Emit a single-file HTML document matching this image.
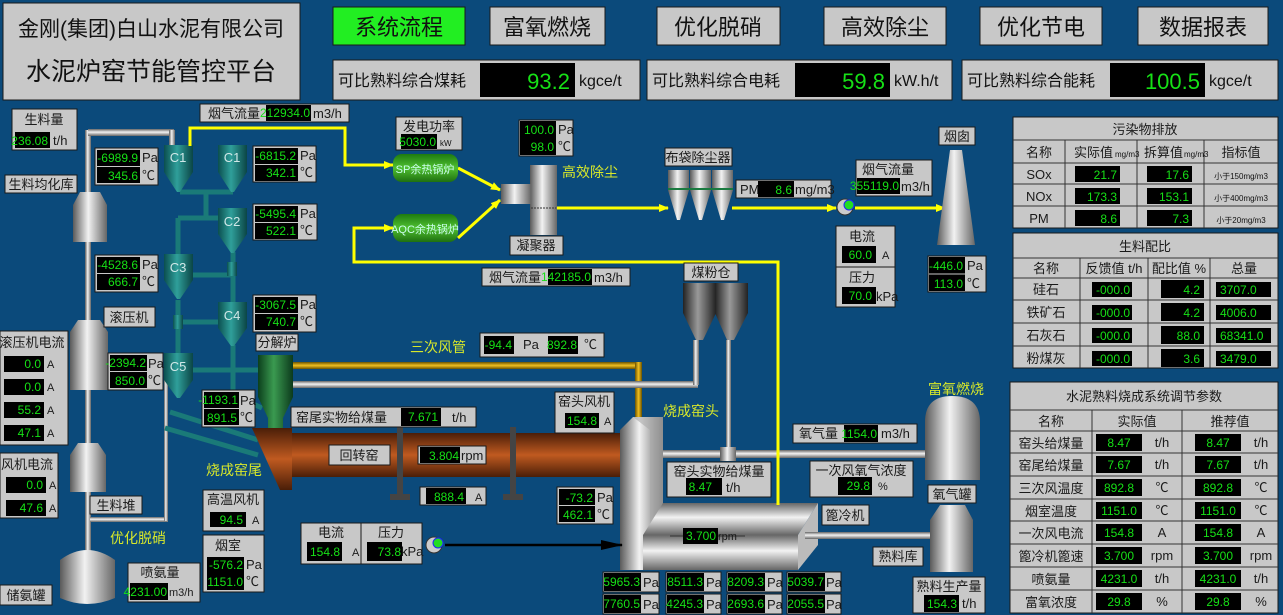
<!DOCTYPE html>
<html><head><meta charset="utf-8">
<style>
html,body{margin:0;padding:0;background:#0b4a7b;width:1283px;height:615px;overflow:hidden}
svg{display:block}
text{font-family:"Liberation Sans","Noto Sans CJK SC",sans-serif}
.p{fill:#c8c8c8;stroke:#1a1a1a;stroke-width:1}
.b{fill:#000}
.v{fill:#16e016;font-family:"Liberation Sans Narrow","Liberation Sans",sans-serif;font-size:12px}
.t{fill:#1a1a1a;font-size:13px}
.s{fill:#1a1a1a;font-size:11px}
.y{fill:#d8e82a;font-size:14px}
.yl{stroke:#ffff00;stroke-width:3;fill:none}
.tl{stroke:#1a7a78;stroke-width:5;fill:none}
</style></head><body>
<svg width="1283" height="615" viewBox="0 0 1283 615" xmlns="http://www.w3.org/2000/svg">
<defs>
<linearGradient id="sil" x1="0" x2="1" y1="0" y2="0"><stop offset="0" stop-color="#5a5a5a"/><stop offset=".45" stop-color="#f2f2f2"/><stop offset="1" stop-color="#666"/></linearGradient>
<linearGradient id="silv" x1="0" x2="0" y1="0" y2="1"><stop offset="0" stop-color="#666"/><stop offset=".45" stop-color="#f2f2f2"/><stop offset="1" stop-color="#666"/></linearGradient>
<linearGradient id="dk" x1="0" x2="1" y1="0" y2="0"><stop offset="0" stop-color="#222"/><stop offset=".45" stop-color="#999"/><stop offset="1" stop-color="#222"/></linearGradient>
<linearGradient id="tea" x1="0" x2="1" y1="0" y2="0"><stop offset="0" stop-color="#0b4f4f"/><stop offset=".45" stop-color="#2f9f9a"/><stop offset="1" stop-color="#0b4545"/></linearGradient>
<linearGradient id="grn" x1="0" x2="1" y1="0" y2="0"><stop offset="0" stop-color="#0c3f1c"/><stop offset=".45" stop-color="#3a9a50"/><stop offset="1" stop-color="#0c3a1c"/></linearGradient>
<linearGradient id="kil" x1="0" x2="0" y1="0" y2="1"><stop offset="0" stop-color="#4a1e08"/><stop offset=".5" stop-color="#c05a20"/><stop offset="1" stop-color="#4a1e08"/></linearGradient>
<linearGradient id="gold" x1="0" x2="0" y1="0" y2="1"><stop offset="0" stop-color="#6a5200"/><stop offset=".5" stop-color="#f0c020"/><stop offset="1" stop-color="#6a5200"/></linearGradient>
<linearGradient id="goldv" x1="0" x2="1" y1="0" y2="0"><stop offset="0" stop-color="#6a5200"/><stop offset=".5" stop-color="#f0c020"/><stop offset="1" stop-color="#6a5200"/></linearGradient>
<linearGradient id="boil" x1="0" x2="0" y1="0" y2="1"><stop offset="0" stop-color="#1e7a10"/><stop offset=".5" stop-color="#50c030"/><stop offset="1" stop-color="#1e7010"/></linearGradient>
<marker id="ya" markerWidth="10" markerHeight="8" refX="9" refY="4" orient="auto" markerUnits="userSpaceOnUse"><path d="M0,0 L10,4 L0,8z" fill="#ffff00"/></marker>
<marker id="ka" markerWidth="22" markerHeight="10" refX="21" refY="5" orient="auto" markerUnits="userSpaceOnUse"><path d="M0,0 L22,5 L0,10z" fill="#000"/></marker>
</defs>

<!-- header -->
<rect x="3" y="3" width="297" height="97" class="p"/>
<text x="151" y="36" font-size="21" text-anchor="middle" fill="#111">金刚(集团)白山水泥有限公司</text>
<text x="151" y="80" font-size="25" text-anchor="middle" fill="#111">水泥炉窑节能管控平台</text>
<rect x="333" y="7" width="132" height="38" fill="#22ee22" stroke="#1a1a1a"/>
<text x="399" y="35" font-size="22" text-anchor="middle" fill="#111">系统流程</text>
<rect x="490" y="7" width="115" height="38" class="p"/><text x="547" y="35" font-size="22" text-anchor="middle" fill="#111">富氧燃烧</text>
<rect x="657" y="7" width="123" height="38" class="p"/><text x="718" y="35" font-size="22" text-anchor="middle" fill="#111">优化脱硝</text>
<rect x="824" y="7" width="122" height="38" class="p"/><text x="885" y="35" font-size="22" text-anchor="middle" fill="#111">高效除尘</text>
<rect x="980" y="7" width="122" height="38" class="p"/><text x="1041" y="35" font-size="22" text-anchor="middle" fill="#111">优化节电</text>
<rect x="1138" y="7" width="130" height="38" class="p"/><text x="1203" y="35" font-size="22" text-anchor="middle" fill="#111">数据报表</text>

<rect x="333" y="60" width="307" height="40" class="p"/><text x="338" y="86" font-size="16" fill="#111">可比熟料综合煤耗</text>
<rect x="480" y="63" width="95" height="34" class="b"/><text x="570" y="89" font-size="22" fill="#16e016" text-anchor="end" font-family="Liberation Mono">93.2</text>
<text x="579" y="86" font-size="16" fill="#111">kgce/t</text>
<rect x="647" y="60" width="305" height="40" class="p"/><text x="652" y="86" font-size="16" fill="#111">可比熟料综合电耗</text>
<rect x="795" y="63" width="95" height="34" class="b"/><text x="885" y="89" font-size="22" fill="#16e016" text-anchor="end" font-family="Liberation Mono">59.8</text>
<text x="894" y="86" font-size="16" fill="#111">kW.h/t</text>
<rect x="962" y="60" width="316" height="40" class="p"/><text x="967" y="86" font-size="16" fill="#111">可比熟料综合能耗</text>
<rect x="1110" y="63" width="95" height="34" class="b"/><text x="1200" y="89" font-size="22" fill="#16e016" text-anchor="end" font-family="Liberation Mono">100.5</text>
<text x="1209" y="86" font-size="16" fill="#111">kgce/t</text>

<!-- pipes left -->
<rect x="85" y="130" width="6" height="470" fill="url(#sil)"/>
<rect x="88" y="129" width="86" height="7" fill="url(#silv)"/>
<rect x="169" y="130" width="6" height="16" fill="url(#sil)"/>
<rect x="90" y="517" width="78" height="5" fill="url(#silv)"/>
<rect x="164" y="355" width="4" height="166" fill="url(#sil)"/>
<!-- silos left -->
<path d="M73,205 L80,192 L100,192 L107,205 L107,242 L73,242z" fill="url(#sil)"/>
<path d="M70,332 L78,320 L100,320 L108,332 L108,390 L70,390z" fill="url(#sil)"/>
<path d="M70,455 L78,443 L98,443 L106,455 L106,492 L70,492z" fill="url(#sil)"/>
<path d="M60,560 Q87,540 115,560 L115,598 Q87,610 60,598z" fill="url(#sil)"/>

<!-- teal connections -->
<path class="tl" d="M180,192 L233,192 M206,192 L206,218 L233,218 M178,218 L206,218 M178,218 L178,256 M193,275 L233,275 M233,252 L233,302 M178,300 L178,353 M178,322 L225,322 M193,370 L262,370 M233,345 L233,395 L262,408 M170,412 L258,440 M165,428 L258,455"/>
<!-- cyclones -->
<g fill="url(#tea)">
<path d="M164,145 H193 V172 L180,192 H177 L164,172z"/>
<path d="M218,145 H247 V172 L234,192 H231 L218,172z"/>
<path d="M218,208 H247 V234 L234,253 H231 L218,234z"/>
<path d="M164,254 H193 V280 L180,299 H177 L164,280z"/>
<path d="M218,302 H247 V328 L234,346 H231 L218,328z"/>
<path d="M164,353 H193 V380 L180,398 H177 L164,380z"/>
</g>
<g fill="#d0e8e8" font-size="13" text-anchor="middle">
<text x="178" y="162">C1</text><text x="232" y="162">C1</text><text x="232" y="226">C2</text><text x="178" y="272">C3</text><text x="232" y="320">C4</text><text x="178" y="371">C5</text></g>
<rect x="227" y="262" width="10" height="14" fill="url(#tea)"/><rect x="173" y="315" width="10" height="14" fill="url(#tea)"/>

<!-- precalciner -->
<path d="M258,355 H293 V397 L283,418 V432 H268 V418 L258,397z" fill="url(#grn)"/>
<!-- tertiary air pipes -->
<rect x="293" y="362" width="348" height="7" fill="url(#gold)"/>
<rect x="635" y="362" width="7" height="60" fill="url(#goldv)"/>
<rect x="293" y="381" width="405" height="7" fill="url(#silv)"/>
<rect x="693" y="340" width="6" height="45" fill="url(#sil)"/>
<rect x="726" y="340" width="5" height="115" fill="url(#sil)"/>
<rect x="655" y="450" width="270" height="8" fill="url(#silv)"/>
<rect x="720" y="447" width="16" height="14" fill="url(#sil)"/>
<!-- coal bin -->
<path d="M683,283 H716 V313 L703,340 H696 L683,313z" fill="url(#dk)"/>
<path d="M715,283 H748 V313 L734,340 H727 L715,313z" fill="url(#dk)"/>

<!-- kiln -->
<rect x="285" y="433" width="340" height="44" fill="url(#kil)"/>
<path d="M252,428 H292 V490 H280 Z" fill="url(#kil)"/>
<rect x="397" y="427" width="6" height="68" fill="#444"/><rect x="390" y="494" width="20" height="6" fill="#444"/>
<rect x="510" y="427" width="6" height="68" fill="#444"/><rect x="503" y="494" width="20" height="6" fill="#444"/>
<!-- kiln head & cooler -->
<path d="M620,430 L633,417 H663 V557 L650,570 H620z" fill="url(#sil)"/>
<path d="M633,417 H663 V557 L650,570 V430z" fill="#aaa" opacity=".6"/>
<path d="M643,535 L663,503 H818 L798,535z" fill="url(#silv)"/>
<rect x="643" y="535" width="155" height="35" fill="url(#silv)"/>
<path d="M798,535 L818,503 V545 L798,570z" fill="#bbb"/>
<line x1="670" y1="536" x2="745" y2="536" stroke="#333"/>
<rect x="805" y="532" width="125" height="7" fill="url(#silv)"/>
<!-- oxygen tank & clinker silo -->
<path d="M925,422 Q925,396 952,396 Q980,396 980,422 V480 H925z" fill="url(#sil)"/>
<path d="M930,520 L940,505 H965 L973,520 V572 H930z" fill="url(#sil)"/>

<!-- flue gas yellow lines -->
<path class="yl" d="M190,146 V128 H345 V165 H393" marker-end="url(#ya)"/>
<path class="yl" d="M458,168 L500,190" marker-end="url(#ya)"/>
<path class="yl" d="M458,238 L500,200" marker-end="url(#ya)"/>
<path class="yl" d="M778,505 V262 H354 V228 H393" marker-end="url(#ya)"/>
<path class="yl" d="M557,208 H668" marker-end="url(#ya)"/>
<path class="yl" d="M732,208 H836" marker-end="url(#ya)"/>
<path class="yl" d="M855,208 H945" marker-end="url(#ya)"/>
<!-- boilers -->
<rect x="393" y="154" width="65" height="28" rx="9" fill="url(#boil)"/>
<text x="425" y="173" font-size="11" fill="#cfe" text-anchor="middle">SP余热锅炉</text>
<rect x="393" y="214" width="65" height="28" rx="9" fill="url(#boil)"/>
<text x="425" y="233" font-size="11" fill="#cfe" text-anchor="middle">AQC余热锅炉</text>
<!-- condenser -->
<rect x="530" y="165" width="27" height="70" fill="url(#sil)"/>
<rect x="501" y="184" width="30" height="20" fill="url(#sil)"/>
<line x1="531" y1="208" x2="556" y2="208" stroke="#333" stroke-dasharray="2 1"/>
<!-- bag filter -->
<g fill="url(#sil)"><path d="M668,170 H689 V190 L680,220 H677 L668,190z"/><path d="M690,170 H711 V190 L702,220 H699 L690,190z"/><path d="M712,170 H733 V190 L724,220 H721 L712,190z"/></g>
<line x1="668" y1="189" x2="733" y2="189" stroke="#1a7a40" stroke-width="2"/>
<!-- fans -->
<circle cx="845" cy="207" r="8" fill="#ccc" stroke="#333"/><circle cx="849" cy="205" r="5" fill="#22dd22" stroke="#22f"/>
<circle cx="434" cy="545" r="8" fill="#ccc" stroke="#333"/><circle cx="438" cy="543" r="5" fill="#22dd22" stroke="#22f"/>
<line x1="445" y1="545" x2="622" y2="545" stroke="#000" stroke-width="2.5" marker-end="url(#ka)"/>
<!-- chimney -->
<path d="M950,150 H962 L975,245 H937z" fill="url(#sil)"/>

<!-- yellow-green labels -->
<text x="562" y="177" class="y">高效除尘</text>
<text x="410" y="352" class="y">三次风管</text>
<text x="206" y="475" class="y">烧成窑尾</text>
<text x="663" y="416" class="y">烧成窑头</text>
<text x="928" y="394" class="y">富氧燃烧</text>
<text x="110" y="543" class="y">优化脱硝</text>

<!-- panels left -->
<rect x="12" y="109" width="65" height="41" class="p"/><text x="44" y="124" class="t" text-anchor="middle">生料量</text>
<rect x="15" y="132" width="35" height="16" class="b"/><text x="48" y="145" class="v" text-anchor="end" font-size="11">236.08</text><text x="53" y="145" class="t">t/h</text>
<rect x="5" y="175" width="72" height="18" class="p"/><text x="41" y="189" class="t" text-anchor="middle">生料均化库</text>
<rect x="200" y="104" width="149" height="18" class="p"/><text x="208" y="118" class="t">烟气流量</text>
<rect x="266" y="105" width="45" height="16" class="b"/><text x="310" y="117" class="v" text-anchor="end" font-size="10">212934.0</text><text x="313" y="118" class="t">m3/h</text>

<!-- two-row Pa/C panels -->
<g>
<rect x="95" y="148" width="63" height="37" class="p"/><rect x="97" y="150" width="43" height="16" class="b"/><rect x="97" y="167" width="43" height="16" class="b"/>
<text x="138" y="162" class="v" text-anchor="end">-6989.9</text><text x="138" y="180" class="v" text-anchor="end">345.6</text><text x="142" y="162" class="t">Pa</text><text x="142" y="180" class="t">℃</text>
<rect x="253" y="146" width="63" height="36" class="p"/><rect x="255" y="148" width="43" height="16" class="b"/><rect x="255" y="165" width="43" height="16" class="b"/>
<text x="296" y="160" class="v" text-anchor="end">-6815.2</text><text x="296" y="177" class="v" text-anchor="end">342.1</text><text x="300" y="160" class="t">Pa</text><text x="300" y="177" class="t">℃</text>
<rect x="253" y="204" width="64" height="36" class="p"/><rect x="255" y="206" width="43" height="16" class="b"/><rect x="255" y="223" width="43" height="16" class="b"/>
<text x="296" y="218" class="v" text-anchor="end">-5495.4</text><text x="296" y="235" class="v" text-anchor="end">522.1</text><text x="300" y="218" class="t">Pa</text><text x="300" y="235" class="t">℃</text>
<rect x="95" y="255" width="63" height="37" class="p"/><rect x="97" y="257" width="43" height="16" class="b"/><rect x="97" y="274" width="43" height="16" class="b"/>
<text x="138" y="269" class="v" text-anchor="end">-4528.6</text><text x="138" y="286" class="v" text-anchor="end">666.7</text><text x="142" y="269" class="t">Pa</text><text x="142" y="286" class="t">℃</text>
<rect x="253" y="295" width="63" height="37" class="p"/><rect x="255" y="297" width="43" height="16" class="b"/><rect x="255" y="314" width="43" height="16" class="b"/>
<text x="296" y="309" class="v" text-anchor="end">-3067.5</text><text x="296" y="326" class="v" text-anchor="end">740.7</text><text x="300" y="309" class="t">Pa</text><text x="300" y="326" class="t">℃</text>
<rect x="108" y="353" width="55" height="37" class="p"/><rect x="110" y="355" width="37" height="16" class="b"/><rect x="110" y="372" width="37" height="16" class="b"/>
<text x="146" y="367" class="v" text-anchor="end" font-size="10">-2394.2</text><text x="145" y="385" class="v" text-anchor="end">850.0</text><text x="148" y="368" class="t">Pa</text><text x="148" y="385" class="t">℃</text>
<rect x="202" y="390" width="53" height="37" class="p"/><rect x="204" y="392" width="35" height="16" class="b"/><rect x="204" y="409" width="35" height="16" class="b"/>
<text x="238" y="404" class="v" text-anchor="end" font-size="10">-1193.1</text><text x="237" y="422" class="v" text-anchor="end">891.5</text><text x="240" y="405" class="t">Pa</text><text x="240" y="422" class="t">℃</text>
<rect x="557" y="487" width="56" height="37" class="p"/><rect x="559" y="489" width="36" height="16" class="b"/><rect x="559" y="506" width="36" height="16" class="b"/>
<text x="593" y="502" class="v" text-anchor="end">-73.2</text><text x="593" y="519" class="v" text-anchor="end">462.1</text><text x="597" y="502" class="t">Pa</text><text x="597" y="519" class="t">℃</text>
<rect x="519" y="120" width="54" height="36" class="p"/><rect x="520" y="121" width="36" height="34" class="b"/>
<text x="554" y="134" class="v" text-anchor="end">100.0</text><text x="554" y="151" class="v" text-anchor="end">98.0</text><text x="558" y="134" class="t">Pa</text><text x="558" y="151" class="t">℃</text>
<rect x="928" y="256" width="58" height="36" class="p"/><rect x="929" y="257" width="36" height="34" class="b"/>
<line x1="929" y1="274" x2="965" y2="274" stroke="#c8c8c8"/>
<text x="963" y="270" class="v" text-anchor="end">-446.0</text><text x="963" y="288" class="v" text-anchor="end">113.0</text><text x="967" y="270" class="t">Pa</text><text x="967" y="288" class="t">℃</text>
</g>

<rect x="104" y="307" width="51" height="20" class="p"/><text x="129" y="322" class="t" text-anchor="middle">滚压机</text>
<rect x="256" y="334" width="42" height="17" class="p"/><text x="277" y="347" class="t" text-anchor="middle">分解炉</text>

<rect x="0" y="331" width="68" height="114" class="p"/><text x="32" y="347" class="t" text-anchor="middle">滚压机电流</text>
<g><rect x="4" y="356" width="40" height="16" class="b"/><rect x="4" y="379" width="40" height="16" class="b"/><rect x="4" y="402" width="40" height="16" class="b"/><rect x="4" y="425" width="40" height="16" class="b"/>
<text x="41" y="368" class="v" text-anchor="end">0.0</text><text x="41" y="391" class="v" text-anchor="end">0.0</text><text x="41" y="414" class="v" text-anchor="end">55.2</text><text x="41" y="437" class="v" text-anchor="end">47.1</text>
<text x="47" y="368" class="s">A</text><text x="47" y="391" class="s">A</text><text x="47" y="414" class="s">A</text><text x="47" y="437" class="s">A</text></g>
<rect x="0" y="453" width="58" height="65" class="p"/><text x="27" y="469" class="t" text-anchor="middle">风机电流</text>
<rect x="6" y="477" width="40" height="16" class="b"/><rect x="6" y="500" width="40" height="16" class="b"/>
<text x="43" y="489" class="v" text-anchor="end">0.0</text><text x="43" y="512" class="v" text-anchor="end">47.6</text><text x="49" y="489" class="s">A</text><text x="49" y="512" class="s">A</text>
<rect x="90" y="496" width="52" height="18" class="p"/><text x="116" y="510" class="t" text-anchor="middle">生料堆</text>
<rect x="0" y="585" width="52" height="20" class="p"/><text x="26" y="600" class="t" text-anchor="middle">储氨罐</text>
<rect x="128" y="563" width="72" height="39" class="p"/><text x="160" y="577" class="t" text-anchor="middle">喷氨量</text>
<rect x="130" y="583" width="38" height="17" class="b"/><text x="167" y="596" class="v" text-anchor="end" font-size="10">4231.00</text><text x="169" y="596" class="s">m3/h</text>

<rect x="203" y="490" width="61" height="41" class="p"/><text x="233" y="504" class="t" text-anchor="middle">高温风机</text>
<rect x="210" y="512" width="36" height="15" class="b"/><text x="243" y="524" class="v" text-anchor="end">94.5</text><text x="252" y="524" class="s">A</text>
<rect x="203" y="535" width="61" height="57" class="p"/><text x="228" y="550" class="t" text-anchor="middle">烟室</text>
<rect x="207" y="557" width="37" height="33" class="b"/><text x="243" y="569" class="v" text-anchor="end">-576.2</text><text x="243" y="586" class="v" text-anchor="end" font-size="11">1151.0</text><text x="246" y="569" class="t">Pa</text><text x="246" y="586" class="t">℃</text>

<rect x="291" y="407" width="185" height="20" class="p"/><text x="296" y="422" class="t">窑尾实物给煤量</text>
<rect x="401" y="408" width="40" height="18" class="b"/><text x="438" y="421" class="v" text-anchor="end">7.671</text><text x="452" y="422" class="t">t/h</text>
<rect x="329" y="445" width="61" height="20" class="p"/><text x="359" y="460" class="t" text-anchor="middle">回转窑</text>
<rect x="418" y="446" width="68" height="18" class="p"/><rect x="420" y="447" width="40" height="16" class="b"/><text x="459" y="460" class="v" text-anchor="end">3.804</text><text x="461" y="460" class="t">rpm</text>
<rect x="420" y="487" width="66" height="18" class="p"/><rect x="426" y="488" width="40" height="16" class="b"/><text x="464" y="501" class="v" text-anchor="end">888.4</text><text x="475" y="501" class="s">A</text>

<rect x="301" y="523" width="60" height="41" class="p"/><rect x="361" y="523" width="61" height="41" class="p"/>
<text x="331" y="537" class="t" text-anchor="middle">电流</text><text x="391" y="537" class="t" text-anchor="middle">压力</text>
<rect x="307" y="542" width="35" height="19" class="b"/><text x="340" y="556" class="v" text-anchor="end">154.8</text><text x="352" y="556" class="s">A</text>
<rect x="367" y="542" width="35" height="19" class="b"/><text x="401" y="556" class="v" text-anchor="end">73.8</text><text x="401" y="556" class="t">kPa</text>

<rect x="555" y="392" width="59" height="41" class="p"/><text x="584" y="406" class="t" text-anchor="middle">窑头风机</text>
<rect x="565" y="413" width="34" height="15" class="b"/><text x="597" y="425" class="v" text-anchor="end">154.8</text><text x="604" y="425" class="s">A</text>

<rect x="480" y="333" width="124" height="24" class="p"/><rect x="484" y="336" width="30" height="18" class="b"/><text x="512" y="349" class="v" text-anchor="end">-94.4</text><text x="523" y="349" class="t">Pa</text>
<rect x="548" y="336" width="30" height="18" class="b"/><text x="577" y="349" class="v" text-anchor="end">892.8</text><text x="584" y="349" class="t">℃</text>

<rect x="396" y="117" width="66" height="33" class="p"/><text x="429" y="131" class="t" text-anchor="middle">发电功率</text>
<rect x="401" y="134" width="36" height="15" class="b"/><text x="436" y="146" class="v" text-anchor="end" font-size="11">5030.0</text><text x="440" y="146" font-size="8" fill="#111">kW</text>
<rect x="510" y="236" width="53" height="19" class="p"/><text x="536" y="250" class="t" text-anchor="middle">凝聚器</text>
<rect x="665" y="148" width="67" height="18" class="p"/><text x="698" y="162" class="t" text-anchor="middle">布袋除尘器</text>
<rect x="736" y="180" width="95" height="18" class="p"/><text x="740" y="194" class="t">PM</text><rect x="758" y="181" width="36" height="16" class="b"/><text x="792" y="194" class="v" text-anchor="end">8.6</text><text x="795" y="194" class="t">mg/m3</text>
<rect x="856" y="160" width="76" height="36" class="p"/><text x="888" y="174" class="t" text-anchor="middle">烟气流量</text>
<rect x="857" y="178" width="43" height="16" class="b"/><text x="899" y="190" class="v" text-anchor="end" font-size="10">355119.0</text><text x="901" y="191" class="t">m3/h</text>
<rect x="836" y="226" width="59" height="41" class="p"/><text x="862" y="241" class="t" text-anchor="middle">电流</text>
<rect x="842" y="246" width="34" height="17" class="b"/><text x="872" y="259" class="v" text-anchor="end">60.0</text><text x="882" y="259" class="s">A</text>
<rect x="836" y="267" width="59" height="40" class="p"/><text x="862" y="282" class="t" text-anchor="middle">压力</text>
<rect x="842" y="287" width="34" height="17" class="b"/><text x="872" y="300" class="v" text-anchor="end">70.0</text><text x="876" y="301" class="t">kPa</text>
<rect x="939" y="127" width="36" height="18" class="p"/><text x="957" y="141" class="t" text-anchor="middle">烟囱</text>
<rect x="482" y="268" width="148" height="18" class="p"/><text x="489" y="282" class="t">烟气流量</text>
<rect x="548" y="269" width="44" height="16" class="b"/><text x="591" y="281" class="v" text-anchor="end" font-size="10">142185.0</text><text x="594" y="282" class="t">m3/h</text>
<rect x="684" y="263" width="54" height="18" class="p"/><text x="711" y="277" class="t" text-anchor="middle">煤粉仓</text>

<rect x="667" y="462" width="104" height="35" class="p"/><text x="719" y="476" class="t" text-anchor="middle">窑头实物给煤量</text>
<rect x="686" y="478" width="36" height="17" class="b"/><text x="712" y="491" class="v" text-anchor="end">8.47</text><text x="726" y="492" class="t">t/h</text>
<rect x="683" y="528" width="35" height="16" class="b"/><text x="716" y="540" class="v" text-anchor="end">3.700</text><text x="718" y="540" class="s">rpm</text>
<rect x="793" y="424" width="124" height="19" class="p"/><text x="799" y="438" class="t">氧气量</text>
<rect x="844" y="425" width="34" height="17" class="b"/><text x="877" y="438" class="v" text-anchor="end" font-size="11">1154.0</text><text x="881" y="438" class="t">m3/h</text>
<rect x="810" y="461" width="103" height="36" class="p"/><text x="861" y="475" class="t" text-anchor="middle">一次风氧气浓度</text>
<rect x="838" y="477" width="34" height="18" class="b"/><text x="870" y="490" class="v" text-anchor="end">29.8</text><text x="878" y="490" class="s">%</text>
<rect x="928" y="485" width="48" height="18" class="p"/><text x="952" y="499" class="t" text-anchor="middle">氧气罐</text>
<rect x="822" y="505" width="47" height="20" class="p"/><text x="845" y="520" class="t" text-anchor="middle">篦冷机</text>
<rect x="873" y="547" width="50" height="19" class="p"/><text x="898" y="561" class="t" text-anchor="middle">熟料库</text>
<rect x="913" y="577" width="72" height="36" class="p"/><text x="949" y="591" class="t" text-anchor="middle">熟料生产量</text>
<rect x="924" y="595" width="35" height="17" class="b"/><text x="957" y="608" class="v" text-anchor="end">154.3</text><text x="962" y="608" class="t">t/h</text>

<!-- bottom Pa boxes -->
<g>
<rect x="603" y="572" width="56" height="20" class="p"/><rect x="604" y="573" width="37" height="18" class="b"/><text x="640" y="586" class="v" text-anchor="end" font-size="11">5965.3</text><text x="643" y="587" class="t">Pa</text>
<rect x="603" y="594" width="56" height="20" class="p"/><rect x="604" y="595" width="37" height="18" class="b"/><text x="640" y="608" class="v" text-anchor="end" font-size="11">7760.5</text><text x="643" y="609" class="t">Pa</text>
<rect x="666" y="572" width="55" height="20" class="p"/><rect x="667" y="573" width="37" height="18" class="b"/><text x="703" y="586" class="v" text-anchor="end" font-size="11">8511.3</text><text x="706" y="587" class="t">Pa</text>
<rect x="666" y="594" width="55" height="20" class="p"/><rect x="667" y="595" width="37" height="18" class="b"/><text x="703" y="608" class="v" text-anchor="end" font-size="11">4245.3</text><text x="706" y="609" class="t">Pa</text>
<rect x="727" y="572" width="55" height="20" class="p"/><rect x="728" y="573" width="37" height="18" class="b"/><text x="764" y="586" class="v" text-anchor="end" font-size="11">8209.3</text><text x="767" y="587" class="t">Pa</text>
<rect x="727" y="594" width="55" height="20" class="p"/><rect x="728" y="595" width="37" height="18" class="b"/><text x="764" y="608" class="v" text-anchor="end" font-size="11">2693.6</text><text x="767" y="609" class="t">Pa</text>
<rect x="787" y="572" width="54" height="20" class="p"/><rect x="788" y="573" width="37" height="18" class="b"/><text x="824" y="586" class="v" text-anchor="end" font-size="11">5039.7</text><text x="826" y="587" class="t">Pa</text>
<rect x="787" y="594" width="54" height="20" class="p"/><rect x="788" y="595" width="37" height="18" class="b"/><text x="824" y="608" class="v" text-anchor="end" font-size="11">2055.5</text><text x="826" y="609" class="t">Pa</text>
</g>

<!-- Table 1 -->
<g>
<rect x="1013" y="117" width="265" height="111" class="p"/>
<path d="M1013,140 H1278 M1013,163 H1278 M1013,184 H1278 M1013,206 H1278 M1065,140 V228 M1137,140 V228 M1204,140 V228" stroke="#333" fill="none"/>
<text x="1145" y="134" class="t" text-anchor="middle">污染物排放</text>
<text x="1039" y="157" class="t" text-anchor="middle">名称</text>
<text x="1074" y="157" class="t">实际值</text><text x="1115" y="157" font-size="8" fill="#111">mg/m3</text>
<text x="1144" y="157" class="t">拆算值</text><text x="1184" y="157" font-size="8" fill="#111">mg/m3</text>
<text x="1241" y="157" class="t" text-anchor="middle">指标值</text>
<text x="1039" y="179" class="t" text-anchor="middle">SOx</text><text x="1039" y="201" class="t" text-anchor="middle">NOx</text><text x="1039" y="223" class="t" text-anchor="middle">PM</text>
<rect x="1075" y="166" width="45" height="16" class="b"/><rect x="1075" y="188" width="45" height="16" class="b"/><rect x="1075" y="210" width="45" height="16" class="b"/>
<rect x="1147" y="166" width="45" height="16" class="b"/><rect x="1147" y="188" width="45" height="16" class="b"/><rect x="1147" y="210" width="45" height="16" class="b"/>
<text x="1117" y="179" class="v" text-anchor="end">21.7</text><text x="1117" y="201" class="v" text-anchor="end">173.3</text><text x="1117" y="223" class="v" text-anchor="end">8.6</text>
<text x="1189" y="179" class="v" text-anchor="end">17.6</text><text x="1189" y="201" class="v" text-anchor="end">153.1</text><text x="1189" y="223" class="v" text-anchor="end">7.3</text>
<text x="1241" y="179" font-size="8" fill="#111" text-anchor="middle">小于150mg/m3</text><text x="1241" y="201" font-size="8" fill="#111" text-anchor="middle">小于400mg/m3</text><text x="1241" y="223" font-size="8" fill="#111" text-anchor="middle">小于20mg/m3</text>
</g>
<!-- Table 2 -->
<g>
<rect x="1013" y="233" width="265" height="135" class="p"/>
<path d="M1013,258 H1278 M1013,278 H1278 M1013,300 H1278 M1013,323 H1278 M1013,346 H1278 M1080,258 V368 M1148,258 V368 M1210,258 V368" stroke="#333" fill="none"/>
<text x="1145" y="251" class="t" text-anchor="middle">生料配比</text>
<text x="1046" y="273" class="t" text-anchor="middle">名称</text><text x="1114" y="273" class="t" text-anchor="middle">反馈值 t/h</text><text x="1179" y="273" class="t" text-anchor="middle">配比值 %</text><text x="1244" y="273" class="t" text-anchor="middle">总量</text>
<text x="1046" y="294" class="t" text-anchor="middle">硅石</text><text x="1046" y="317" class="t" text-anchor="middle">铁矿石</text><text x="1046" y="340" class="t" text-anchor="middle">石灰石</text><text x="1046" y="363" class="t" text-anchor="middle">粉煤灰</text>
<g class="b"><rect x="1092" y="282" width="40" height="15"/><rect x="1092" y="305" width="40" height="15"/><rect x="1092" y="328" width="40" height="15"/><rect x="1092" y="351" width="40" height="15"/>
<rect x="1161" y="280" width="43" height="18"/><rect x="1161" y="303" width="43" height="18"/><rect x="1161" y="326" width="43" height="18"/><rect x="1161" y="349" width="43" height="18"/>
<rect x="1216" y="282" width="55" height="15"/><rect x="1216" y="305" width="55" height="15"/><rect x="1216" y="328" width="55" height="15"/><rect x="1216" y="351" width="55" height="15"/></g>
<text x="1130" y="294" class="v" text-anchor="end">-000.0</text><text x="1130" y="317" class="v" text-anchor="end">-000.0</text><text x="1130" y="340" class="v" text-anchor="end">-000.0</text><text x="1130" y="363" class="v" text-anchor="end">-000.0</text>
<text x="1200" y="294" class="v" text-anchor="end">4.2</text><text x="1200" y="317" class="v" text-anchor="end">4.2</text><text x="1200" y="340" class="v" text-anchor="end">88.0</text><text x="1200" y="363" class="v" text-anchor="end">3.6</text>
<text x="1220" y="294" class="v">3707.0</text><text x="1220" y="317" class="v">4006.0</text><text x="1220" y="340" class="v">68341.0</text><text x="1220" y="363" class="v">3479.0</text>
</g>
<!-- Table 3 -->
<g>
<rect x="1010" y="382" width="268" height="231" class="p"/>
<path d="M1010,410 H1278 M1010,431 H1278 M1010,453 H1278 M1010,476 H1278 M1010,499 H1278 M1010,521 H1278 M1010,544 H1278 M1010,567 H1278 M1010,590 H1278 M1092,410 V613 M1182,410 V613" stroke="#333" fill="none"/>
<text x="1144" y="401" class="t" text-anchor="middle">水泥熟料烧成系统调节参数</text>
<text x="1051" y="426" class="t" text-anchor="middle">名称</text><text x="1137" y="426" class="t" text-anchor="middle">实际值</text><text x="1230" y="426" class="t" text-anchor="middle">推荐值</text>
<g class="t" text-anchor="middle"><text x="1051" y="448">窑头给煤量</text><text x="1051" y="470">窑尾给煤量</text><text x="1051" y="493">三次风温度</text><text x="1051" y="516">烟室温度</text><text x="1051" y="538">一次风电流</text><text x="1051" y="561">篦冷机篦速</text><text x="1051" y="584">喷氨量</text><text x="1051" y="607">富氧浓度</text></g>
<g class="b"><rect x="1096" y="434" width="46" height="17"/><rect x="1096" y="456" width="46" height="17"/><rect x="1096" y="479" width="46" height="17"/><rect x="1096" y="502" width="46" height="17"/><rect x="1096" y="524" width="46" height="17"/><rect x="1096" y="547" width="46" height="17"/><rect x="1096" y="570" width="46" height="17"/><rect x="1096" y="593" width="46" height="17"/>
<rect x="1195" y="434" width="46" height="17"/><rect x="1195" y="456" width="46" height="17"/><rect x="1195" y="479" width="46" height="17"/><rect x="1195" y="502" width="46" height="17"/><rect x="1195" y="524" width="46" height="17"/><rect x="1195" y="547" width="46" height="17"/><rect x="1195" y="570" width="46" height="17"/><rect x="1195" y="593" width="46" height="17"/></g>
<g class="v" text-anchor="middle"><text x="1119" y="447">8.47</text><text x="1119" y="469">7.67</text><text x="1119" y="492">892.8</text><text x="1119" y="515">1151.0</text><text x="1119" y="537">154.8</text><text x="1119" y="560">3.700</text><text x="1119" y="583">4231.0</text><text x="1119" y="606">29.8</text>
<text x="1218" y="447">8.47</text><text x="1218" y="469">7.67</text><text x="1218" y="492">892.8</text><text x="1218" y="515">1151.0</text><text x="1218" y="537">154.8</text><text x="1218" y="560">3.700</text><text x="1218" y="583">4231.0</text><text x="1218" y="606">29.8</text></g>
<g class="t" text-anchor="middle"><text x="1162" y="447">t/h</text><text x="1162" y="469">t/h</text><text x="1162" y="492">℃</text><text x="1162" y="515">℃</text><text x="1162" y="537">A</text><text x="1162" y="560">rpm</text><text x="1162" y="583">t/h</text><text x="1162" y="606">%</text>
<text x="1261" y="447">t/h</text><text x="1261" y="469">t/h</text><text x="1261" y="492">℃</text><text x="1261" y="515">℃</text><text x="1261" y="537">A</text><text x="1261" y="560">rpm</text><text x="1261" y="583">t/h</text><text x="1261" y="606">%</text></g>
</g>
</svg>
</body></html>
